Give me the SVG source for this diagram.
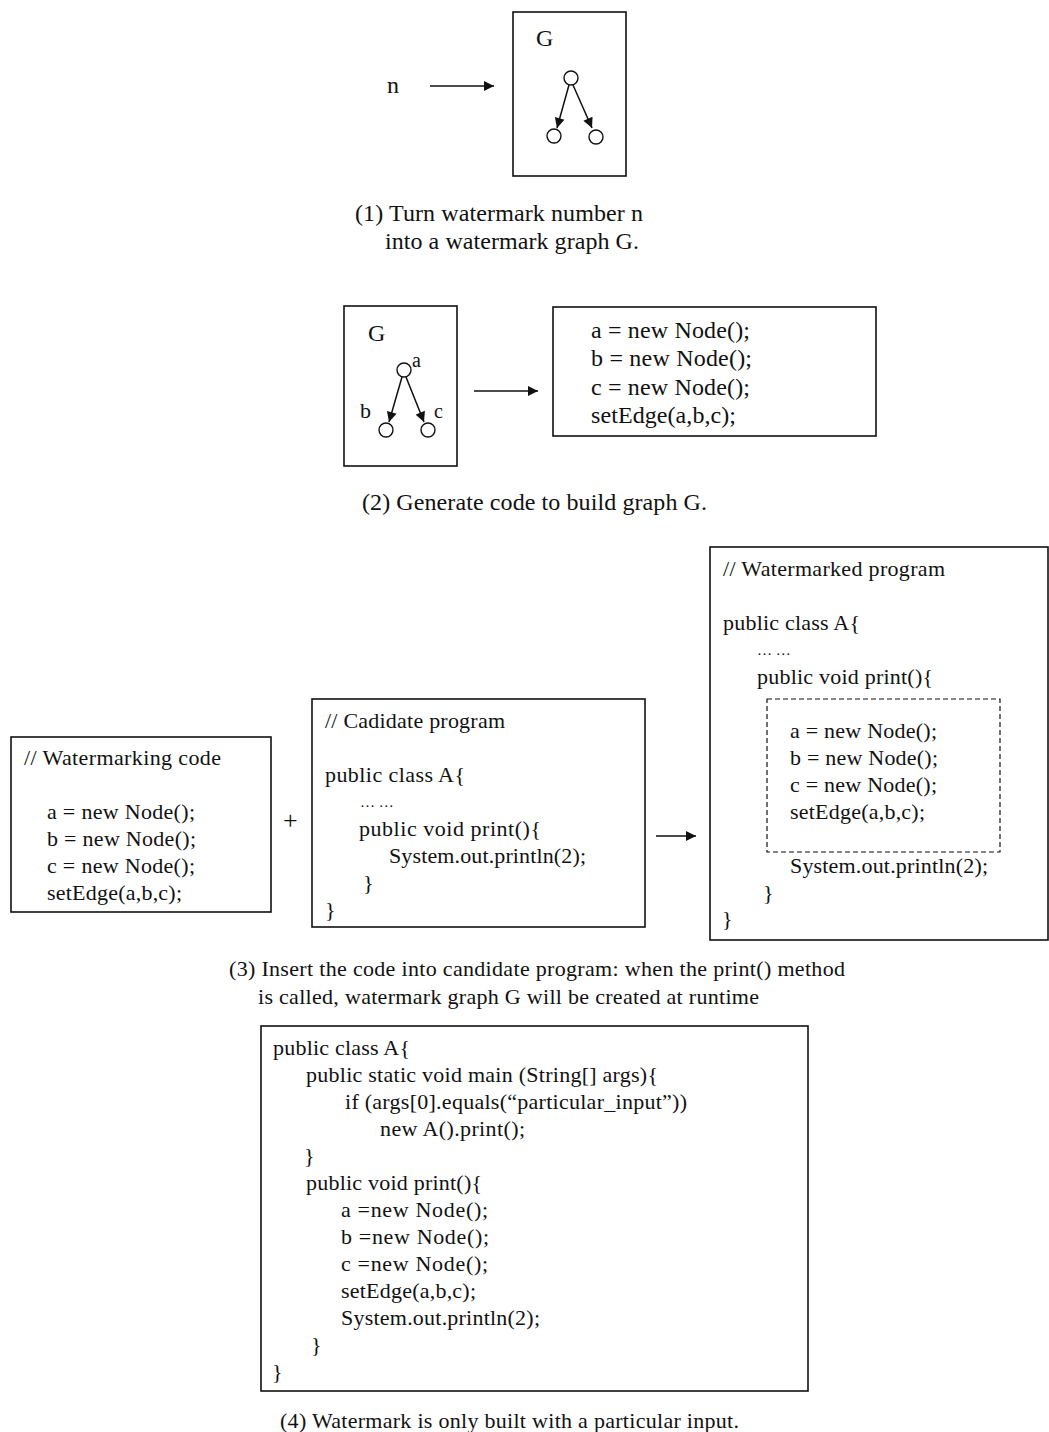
<svg xmlns="http://www.w3.org/2000/svg" width="1049" height="1432" viewBox="0 0 1049 1432">
  <style>
    text { font-family: "Liberation Serif", "Times New Roman", serif; fill: #111; }
    .box { fill: #fff; stroke: #111; stroke-width: 1.6; }
    .dash { fill: none; stroke: #111; stroke-width: 1.2; stroke-dasharray: 5 3; }
    .edge { stroke: #111; stroke-width: 1.5; fill: none; }
    .vert { fill: #fff; stroke: #111; stroke-width: 1.4; }
    .t24 { font-size: 24px; }
    .t22 { font-size: 22px; }
    .t20 { font-size: 20px; }
    .dots { font-size: 15px; }
  </style>
  <defs>
    <marker id="arrow" viewBox="0 0 10 10" refX="10" refY="5" markerWidth="12" markerHeight="10" markerUnits="userSpaceOnUse" orient="auto">
      <path d="M0,0 L10,5 L0,10 z" fill="#111"/>
    </marker>
  </defs>
  <rect width="1049" height="1432" fill="#fff"/>

  <!-- step 1: number n becomes graph G -->
  <g id="n-label"><text class="t24" x="387" y="93">n</text></g>
  <g id="graph1">
    <rect class="box" x="513" y="12" width="113" height="164"/>
    <text class="t24" x="536" y="46">G</text>
    <line class="edge" x1="569" y1="85" x2="557" y2="128" marker-end="url(#arrow)"/>
    <line class="edge" x1="573" y1="85" x2="592" y2="128" marker-end="url(#arrow)"/>
    <circle class="vert" cx="571" cy="78" r="7"/>
    <circle class="vert" cx="554" cy="136" r="7"/>
    <circle class="vert" cx="596" cy="137" r="7"/>
  </g>
  <g id="caption1">
    <text class="t24" x="355" y="221" textLength="288">(1) Turn watermark number n</text>
    <text class="t24" x="385" y="249" textLength="254">into a watermark graph G.</text>
  </g>

  <!-- step 2: graph G becomes construction code -->
  <g id="graph2">
    <rect class="box" x="344" y="306" width="113" height="160"/>
    <text class="t24" x="368" y="341">G</text>
    <line class="edge" x1="402" y1="377" x2="389" y2="422" marker-end="url(#arrow)"/>
    <line class="edge" x1="406" y1="377" x2="424" y2="422" marker-end="url(#arrow)"/>
    <circle class="vert" cx="404" cy="370" r="7"/>
    <circle class="vert" cx="386" cy="430" r="7"/>
    <circle class="vert" cx="428" cy="430" r="7"/>
    <text class="t20" x="412" y="367">a</text>
    <text class="t22" x="360" y="418">b</text>
    <text class="t20" x="434" y="418">c</text>
  </g>
  <g id="code2">
    <rect class="box" x="553" y="307" width="323" height="129"/>
    <text class="t24" x="591" y="338" textLength="159">a = new Node();</text>
    <text class="t24" x="591" y="366" textLength="161">b = new Node();</text>
    <text class="t24" x="591" y="395" textLength="159">c = new Node();</text>
    <text class="t24" x="591" y="423" textLength="145">setEdge(a,b,c);</text>
  </g>
  <g id="caption2">
    <text class="t24" x="362" y="510" textLength="345">(2) Generate code to build graph G.</text>
  </g>

  <!-- step 3: insert code into candidate program -->
  <g id="watermarking-code">
    <rect class="box" x="11" y="737" width="260" height="175"/>
    <text class="t22" x="24" y="765" textLength="197">// Watermarking code</text>
    <text class="t22" x="47" y="819" textLength="148">a = new Node();</text>
    <text class="t22" x="47" y="846" textLength="149">b = new Node();</text>
    <text class="t22" x="47" y="873" textLength="148">c = new Node();</text>
    <text class="t22" x="47" y="900" textLength="135">setEdge(a,b,c);</text>
  </g>
  <g id="plus"><text class="t24" x="283" y="829" style="font-size:26px">+</text></g>
  <g id="candidate-program">
    <rect class="box" x="312" y="699" width="333" height="228"/>
    <text class="t22" x="325" y="728" textLength="180">// Cadidate program</text>
    <text class="t22" x="325" y="782" textLength="140">public class A{</text>
    <text class="dots" x="360" y="807">… …</text>
    <text class="t22" x="359" y="836" textLength="182">public void print(){</text>
    <text class="t22" x="389" y="863" textLength="197">System.out.println(2);</text>
    <text class="t22" x="363" y="890">}</text>
    <text class="t22" x="325" y="917">}</text>
  </g>
  <g id="watermarked-program">
    <rect class="box" x="710" y="547" width="338" height="393"/>
    <text class="t22" x="723" y="576" textLength="222">// Watermarked program</text>
    <text class="t22" x="723" y="630" textLength="137">public class A{</text>
    <text class="dots" x="757" y="655">… …</text>
    <text class="t22" x="757" y="684" textLength="176">public void print(){</text>
    <rect class="dash" x="767" y="699" width="233" height="153"/>
    <text class="t22" x="790" y="738" textLength="147">a = new Node();</text>
    <text class="t22" x="790" y="765" textLength="148">b = new Node();</text>
    <text class="t22" x="790" y="792" textLength="147">c = new Node();</text>
    <text class="t22" x="790" y="819" textLength="135">setEdge(a,b,c);</text>
    <text class="t22" x="790" y="873" textLength="198">System.out.println(2);</text>
    <text class="t22" x="763" y="900">}</text>
    <text class="t22" x="722" y="926">}</text>
  </g>
  <g id="caption3">
    <text class="t22" x="229" y="976" textLength="616">(3) Insert the code  into candidate program: when the print() method</text>
    <text class="t22" x="258" y="1004" textLength="501">is called, watermark graph G will be created at runtime</text>
  </g>

  <!-- step 4: watermark triggered by a particular input -->
  <g id="triggered-program">
    <rect class="box" x="261" y="1026" width="547" height="365"/>
    <text class="t22" x="273" y="1055" textLength="137">public class A{</text>
    <text class="t22" x="306" y="1082" textLength="352">public static void main (String[] args){</text>
    <text class="t22" x="345" y="1109" textLength="342">if (args[0].equals(“particular_input”))</text>
    <text class="t22" x="380" y="1136" textLength="145">new A().print();</text>
    <text class="t22" x="304" y="1163">}</text>
    <text class="t22" x="306" y="1190" textLength="176">public void print(){</text>
    <text class="t22" x="341" y="1217" textLength="147">a =new Node();</text>
    <text class="t22" x="341" y="1244" textLength="148">b =new Node();</text>
    <text class="t22" x="341" y="1271" textLength="147">c =new Node();</text>
    <text class="t22" x="341" y="1298" textLength="135">setEdge(a,b,c);</text>
    <text class="t22" x="341" y="1325" textLength="199">System.out.println(2);</text>
    <text class="t22" x="311" y="1352">}</text>
    <text class="t22" x="272" y="1379">}</text>
  </g>
  <g id="caption4">
    <text class="t22" x="280" y="1428" textLength="459">(4) Watermark is only built with a particular input.</text>
  </g>

  <!-- connectors between stages -->
  <g id="connectors">
    <line class="edge" x1="430" y1="86" x2="494" y2="86" marker-end="url(#arrow)"/>
    <line class="edge" x1="474" y1="391" x2="538" y2="391" marker-end="url(#arrow)"/>
    <line class="edge" x1="656" y1="836" x2="696" y2="836" marker-end="url(#arrow)"/>
  </g>
</svg>
